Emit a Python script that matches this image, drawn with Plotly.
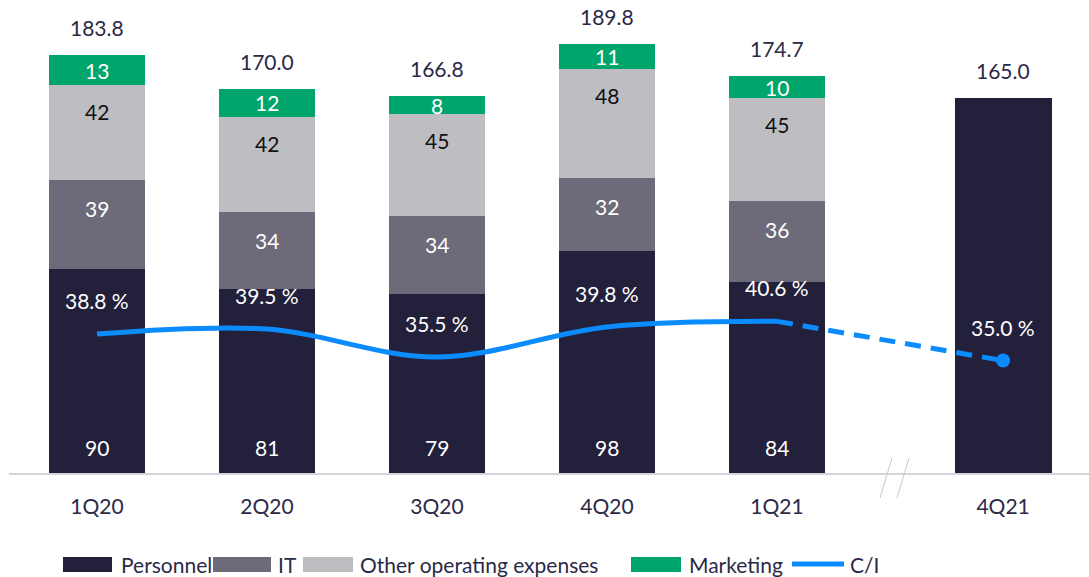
import plotly.graph_objects as go

# ---------------- data ----------------
categories = ["1Q20", "2Q20", "3Q20", "4Q20", "1Q21", "4Q21"]
personnel = [90, 81, 79, 98, 84]
it_costs = [39, 34, 34, 32, 36]
other_opex = [42, 42, 45, 48, 45]
marketing = [13, 12, 8, 11, 10]
totals = [183.8, 170.0, 166.8, 189.8, 174.7, 165.0]
ci_actual = [38.8, 39.5, 35.5, 39.8, 40.6]
ci_target = 35.0

# ---------------- style ----------------
W, H = 1089, 577
PLOT_LEFT = 9
PLOT_BOTTOM = 473  # pixel row of the axis line
C_PERS = "#22203a"
C_IT = "#6d6a7a"
C_OTHER = "#bebdc2"
C_MKT = "#00a56b"
C_LINE = "#0a8cff"
C_TEXT = "#2b2946"
FONT = "Lato"
FS = 21
GAP = 0.33
BAR_W = 0.57

n_act = len(personnel)
x_act = list(range(n_act))
x_all = x_act + [n_act + GAP]

def py(pix):
    """pixel row -> paper y"""
    return (PLOT_BOTTOM - pix) / PLOT_BOTTOM

def px(pix):
    return (pix - PLOT_LEFT) / (W - PLOT_LEFT)

fig = go.Figure()

series = [
    ("Personnel", personnel, C_PERS),
    ("IT", it_costs, C_IT),
    ("Other operating expenses", other_opex, C_OTHER),
    ("Marketing", marketing, C_MKT),
]
for name, vals, col in series:
    fig.add_trace(go.Bar(x=x_act, y=vals, name=name, marker_color=col,
                         marker_line_width=0, width=BAR_W, showlegend=False,
                         hoverinfo="skip"))
# outlook bar (total only)
fig.add_trace(go.Bar(x=[x_all[-1]], y=[totals[-1]], name="Personnel",
                     marker_color=C_PERS, marker_line_width=0, width=BAR_W,
                     showlegend=False, hoverinfo="skip"))

# C/I line (secondary axis)
fig.add_trace(go.Scatter(x=x_act, y=ci_actual, mode="lines", yaxis="y2",
                         line=dict(color=C_LINE, width=5, shape="spline", smoothing=1.0),
                         showlegend=False, hoverinfo="skip"))
fig.add_trace(go.Scatter(x=[x_act[-1], x_all[-1]], y=[ci_actual[-1], ci_target],
                         mode="lines", yaxis="y2",
                         line=dict(color=C_LINE, width=5, dash="16px,10px"),
                         showlegend=False, hoverinfo="skip"))
fig.add_trace(go.Scatter(x=[x_all[-1]], y=[ci_target], mode="markers", yaxis="y2",
                         marker=dict(color=C_LINE, size=14),
                         showlegend=False, hoverinfo="skip"))

ann = []
# segment labels
for i in range(n_act):
    p, t, o, m = personnel[i], it_costs[i], other_opex[i], marketing[i]
    ann.append(dict(x=x_act[i], y=0, text=str(p), showarrow=False, yanchor="bottom",
                    yshift=11, font=dict(color="white", size=FS, family=FONT)))
    ann.append(dict(x=x_act[i], y=p + t, text=str(t), showarrow=False, yanchor="top",
                    yshift=-14, font=dict(color="white", size=FS, family=FONT)))
    ann.append(dict(x=x_act[i], y=p + t + o, text=str(o), showarrow=False, yanchor="top",
                    yshift=-12, font=dict(color="#111111", size=FS, family=FONT)))
    ann.append(dict(x=x_act[i], y=p + t + o + m / 2, text=str(m), showarrow=False,
                    yanchor="middle", font=dict(color="white", size=FS, family=FONT)))
# totals
for xi, tot in zip(x_all, totals):
    top = tot
    if xi in x_act:
        i = x_act.index(xi)
        top = personnel[i] + it_costs[i] + other_opex[i] + marketing[i]
    ann.append(dict(x=xi, y=top, text=f"{tot:.1f}", showarrow=False, yanchor="bottom",
                    yshift=13, font=dict(color=C_TEXT, size=FS, family=FONT)))
# C/I labels
for xi, v in zip(x_all, ci_actual + [ci_target]):
    ann.append(dict(x=xi, y=v, yref="y2", text=f"{v:.1f} %", showarrow=False,
                    yanchor="bottom", yshift=19,
                    font=dict(color="white", size=FS, family=FONT)))

shapes = []
# axis break marks
for x0 in (880, 897):
    shapes.append(dict(type="line", xref="paper", yref="paper",
                       x0=px(x0), x1=px(x0 + 12), y0=py(498), y1=py(458),
                       line=dict(color="#c8c8cc", width=1)))

# custom legend
leg_y0, leg_y1 = 557, 572
legend_items = [
    ("Personnel", C_PERS, 63, 112, 119, "box"),
    ("IT", C_IT, 213, 271, 276, "box"),
    ("Other operating expenses", C_OTHER, 303, 353, 358, "box"),
    ("Marketing", C_MKT, 631, 681, 687, "box"),
    ("C/I", C_LINE, 792, 844, 848, "line"),
]
for name, col, s0, s1, tx, kind in legend_items:
    if kind == "box":
        shapes.append(dict(type="rect", xref="paper", yref="paper",
                           x0=px(s0), x1=px(s1), y0=py(leg_y1), y1=py(leg_y0),
                           fillcolor=col, line=dict(width=0)))
    else:
        shapes.append(dict(type="line", xref="paper", yref="paper",
                           x0=px(s0), x1=px(s1), y0=py(564), y1=py(564),
                           line=dict(color=col, width=5)))
    ann.append(dict(x=px(tx), y=py(564), xref="paper", yref="paper", text=name,
                    showarrow=False, xanchor="left", yanchor="middle",
                    font=dict(color=C_TEXT, size=FS, family=FONT)))

x_left = -(97 - PLOT_LEFT) / 170
x_right = (W - 97) / 170
fig.update_layout(
    width=W, height=H,
    barmode="stack",
    margin=dict(l=PLOT_LEFT, r=0, t=0, b=H - PLOT_BOTTOM, autoexpand=False),
    paper_bgcolor="white", plot_bgcolor="white",
    font=dict(family=FONT, color=C_TEXT, size=FS),
    xaxis=dict(range=[x_left, x_right], tickvals=x_all, ticktext=categories,
               showgrid=False, zeroline=False, showline=True, linecolor="#d4d4da",
               linewidth=2, ticks="", ticklabelstandoff=14, automargin=False,
               tickfont=dict(size=FS, color=C_TEXT, family=FONT)),
    yaxis=dict(range=[0, PLOT_BOTTOM / 2.27], visible=False, showgrid=False),
    yaxis2=dict(range=[18.94, 86.5], overlaying="y", visible=False, showgrid=False),
    annotations=ann,
    shapes=shapes,
    showlegend=False,
)

fig.write_html(
    "out.html",
    config={"displayModeBar": False},
    post_script="document.body.style.margin='0px';document.body.style.overflow='hidden';",
)
